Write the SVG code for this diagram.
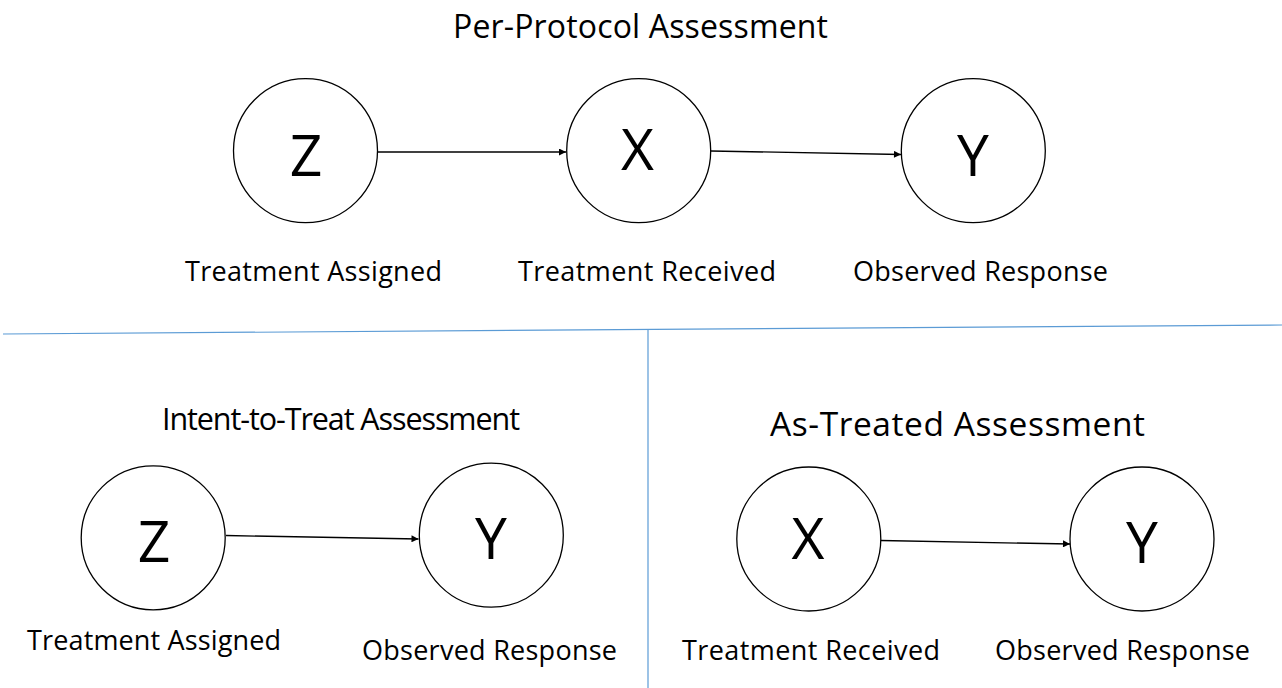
<svg xmlns="http://www.w3.org/2000/svg" width="1282" height="688" viewBox="0 0 1282 688">
<style>
  .node { fill: #ffffff; stroke: #000000; stroke-width: 1.3; }
  .letter { font-family: "Open Sans", "Liberation Sans", sans-serif; font-size: 57px; fill: #000000; text-anchor: middle; }
  .label { font-family: "Open Sans", "Liberation Sans", sans-serif; font-size: 27px; fill: #000000; text-anchor: middle; }
  .title { font-family: "Open Sans", "Liberation Sans", sans-serif; font-size: 32px; fill: #000000; text-anchor: middle; }
  .edge { stroke: #000000; stroke-width: 1.3; fill: none; marker-end: url(#arrow); }
  .divider { stroke: #5B9BD5; stroke-width: 1.2; fill: none; }
</style>
<defs>
  <marker id="arrow" viewBox="0 0 10 10" refX="10" refY="5" markerWidth="10" markerHeight="7" markerUnits="userSpaceOnUse" orient="auto">
    <path d="M0,0 L10,5 L0,10 Z" fill="#000000"/>
  </marker>
</defs>
<rect width="1282" height="688" fill="#ffffff"/>

<g id="dividers">
  <line class="divider" x1="3" y1="334" x2="1282" y2="325"/>
  <line class="divider" x1="648" y1="330" x2="648" y2="688"/>
</g>

<g id="titles">
  <text class="title" x="640.5" y="38" textLength="375">Per-Protocol Assessment</text>
  <text class="title" x="341" y="430" style="font-size:30.5px" textLength="358">Intent-to-Treat Assessment</text>
  <text class="title" x="957.5" y="436" style="font-size:33.5px" textLength="375">As-Treated Assessment</text>
</g>

<g id="connectors">
  <line class="edge" x1="378" y1="152" x2="566" y2="152"/>
  <line class="edge" x1="711" y1="151" x2="901" y2="154.5"/>
  <line class="edge" x1="226" y1="535.5" x2="418.5" y2="539"/>
  <line class="edge" x1="881" y1="540.5" x2="1070" y2="544"/>
</g>

<g id="node-pp-z">
  <circle class="node" cx="305.5" cy="150.7" r="72"/>
  <text class="letter" x="306" y="176">Z</text>
  <text class="label" x="313.5" y="281" textLength="257">Treatment Assigned</text>
</g>
<g id="node-pp-x">
  <circle class="node" cx="638.7" cy="150.7" r="72"/>
  <text class="letter" x="637.5" y="170">X</text>
  <text class="label" x="647" y="281" textLength="258">Treatment Received</text>
</g>
<g id="node-pp-y">
  <circle class="node" cx="973.3" cy="150.7" r="72"/>
  <text class="letter" x="973" y="176">Y</text>
  <text class="label" x="980.5" y="281" textLength="255">Observed Response</text>
</g>

<g id="node-itt-z">
  <circle class="node" cx="153.2" cy="537.8" r="72"/>
  <text class="letter" x="154" y="562">Z</text>
  <text class="label" x="154" y="650" textLength="254">Treatment Assigned</text>
</g>
<g id="node-itt-y">
  <circle class="node" cx="491.3" cy="535.2" r="72"/>
  <text class="letter" x="491" y="559">Y</text>
  <text class="label" x="489.5" y="660" textLength="255">Observed Response</text>
</g>

<g id="node-at-x">
  <circle class="node" cx="808.8" cy="539" r="72"/>
  <text class="letter" x="808" y="559">X</text>
  <text class="label" x="811" y="660" textLength="258">Treatment Received</text>
</g>
<g id="node-at-y">
  <circle class="node" cx="1142" cy="539" r="72"/>
  <text class="letter" x="1142" y="563">Y</text>
  <text class="label" x="1122.5" y="660" textLength="255">Observed Response</text>
</g>
</svg>
